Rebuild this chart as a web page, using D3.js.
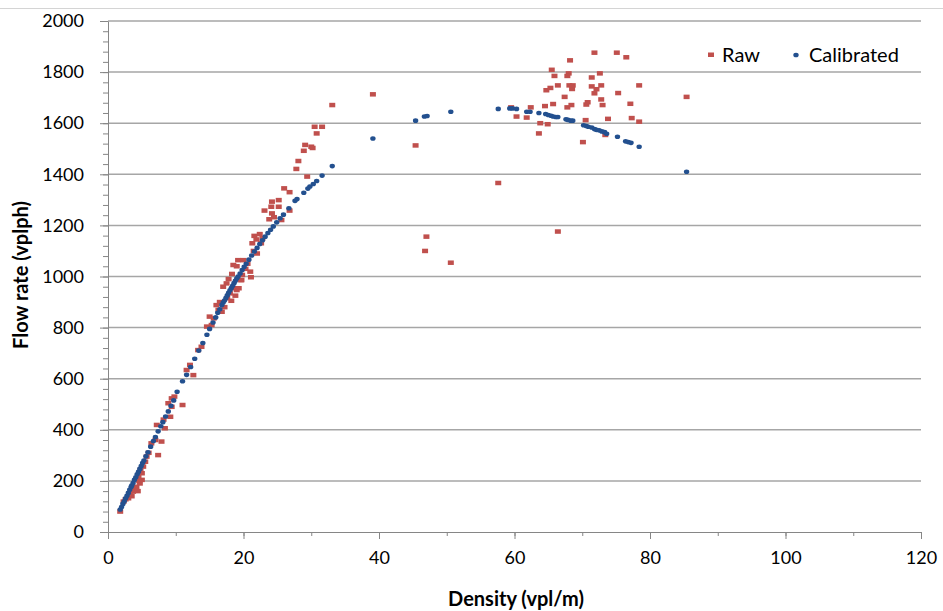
<!DOCTYPE html>
<html>
<head>
<meta charset="utf-8">
<script src="https://cdn.jsdelivr.net/npm/d3@7"></script>
<style>
  body { margin: 0; background: #fff; }
  text { font-family: Lato, "Open Sans", sans-serif; fill: #000; }
</style>
</head>
<body>
<div id="main"></div>
<script>
const w = 943, h = 611
const margin = {left: 108, right: 22, top: 21, bottom: 79}

// density (vpl/m), flow (vplph)
const rawDensity = [1.8,2.3,2.6,3.0,3.2,3.5,3.7,3.9,4.2,4.4,4.7,4.6,5.0,4.5,5.0,4.8,5.2,5.5,5.7,6.0,7.4,6.4,7.0,7.9,7.2,8.4,8.2,9.2,9.4,8.9,9.4,9.8,11.0,11.6,12.6,12.1,13.3,13.8,14.6,15.3,15.0,15.6,16.0,16.3,16.8,17.2,16.5,17.6,18.2,18.8,17.0,17.5,18.0,18.5,19.0,19.7,19.3,17.8,18.3,19.0,18.5,19.2,20.0,20.6,21.0,21.1,19.6,19.8,20.3,21.5,22.0,21.3,21.6,21.9,22.4,22.6,22.8,23.1,23.8,24.2,24.5,25.6,24.1,24.2,25.2,25.2,26.0,26.8,26.8,27.8,28.1,28.9,29.1,30.0,30.2,29.4,30.8,30.5,31.6,33.1,39.1,45.4,47.0,46.8,50.6,57.6,59.5,60.3,61.8,62.4,63.6,63.8,64.9,64.5,64.7,65.3,65.7,65.5,65.9,66.4,66.4,67.4,67.8,67.8,68.0,68.2,68.1,68.6,68.5,68.4,70.1,70.5,70.6,70.8,71.4,71.4,71.8,72.1,72.8,71.8,72.6,72.8,73.0,73.4,73.8,75.1,75.3,76.5,77.1,77.3,78.4,78.4,85.4]
const rawFlow = [80,119,128,132,151,140,158,168,177,160,190,200,204,216,230,243,256,275,295,310,301,347,360,354,419,406,440,451,490,504,523,530,497,634,614,654,712,725,804,810,843,836,888,869,862,880,900,915,905,925,960,973,934,954,947,986,954,990,1010,1040,1045,1064,1064,1050,1019,997,986,1006,1030,1100,1090,1130,1159,1145,1166,1130,1150,1258,1224,1247,1232,1221,1273,1293,1273,1299,1345,1330,1258,1421,1452,1492,1515,1508,1503,1391,1560,1586,1586,1671,1713,1513,1156,1100,1054,1366,1662,1626,1622,1662,1560,1600,1596,1667,1729,1738,1675,1809,1785,1748,1176,1703,1662,1785,1795,1846,1748,1748,1734,1671,1526,1612,1673,1682,1779,1744,1717,1733,1748,1876,1795,1693,1671,1554,1617,1876,1718,1858,1676,1620,1748,1606,1703]

const calDensity = [1.8,2.0,2.2,2.4,2.6,2.8,3.0,3.2,3.4,3.5,3.7,3.9,4.1,4.3,4.5,4.7,4.9,5.1,5.3,5.6,5.9,6.3,6.7,7.0,7.4,7.8,8.1,8.5,8.9,9.3,9.7,10.2,11.0,11.6,12.2,12.8,13.4,14.0,14.6,15.0,15.5,15.9,16.2,16.5,16.8,17.0,17.2,17.4,17.6,17.8,18.0,18.2,18.4,18.6,18.8,19.0,19.2,19.5,19.8,20.1,20.4,20.8,21.2,21.6,22.0,22.4,22.8,23.2,23.6,24.0,24.4,24.9,25.4,25.9,26.7,27.6,27.9,28.9,29.5,29.8,30.3,30.8,31.6,33.1,39.1,45.4,46.7,47.1,50.6,57.6,59.3,59.7,60.3,61.8,62.3,63.6,64.6,65.0,65.4,65.7,66.1,66.4,67.6,67.9,68.3,68.6,70.2,70.6,70.9,71.4,71.8,72.1,72.5,72.9,73.3,73.6,75.2,76.4,76.8,77.2,78.4,85.4]
const calFlow = [88,98,110,120,132,142,153,165,176,182,192,204,214,226,236,247,258,270,280,296,312,334,356,372,394,414,430,452,472,494,515,549,590,615,646,678,710,740,772,795,820,840,858,872,888,898,906,916,926,936,946,955,964,974,983,992,1000,1012,1025,1038,1050,1066,1082,1098,1112,1127,1142,1156,1170,1183,1196,1212,1228,1242,1267,1296,1303,1328,1344,1352,1362,1374,1395,1432,1540,1610,1626,1628,1645,1656,1658,1658,1656,1645,1645,1640,1636,1632,1629,1626,1624,1624,1615,1613,1610,1610,1592,1589,1586,1583,1577,1574,1572,1568,1565,1559,1547,1529,1526,1523,1508,1410]

const xTicks = [0, 20, 40, 60, 80, 100, 120]
const yTicks = [0, 200, 400, 600, 800, 1000, 1200, 1400, 1600, 1800, 2000]

const raw = rawDensity.map((d, i) => ({x: d, y: rawFlow[i]}))
const cal = calDensity.map((d, i) => ({x: d, y: calFlow[i]}))

const svg = d3.select('#main')
            .append('svg')
            .attr('width', w)
            .attr('height', h)

const xScale = d3.scaleLinear().domain([0, 120]).range([margin.left, w - margin.right])
const yScale = d3.scaleLinear().domain([0, 2000]).range([h - margin.bottom, margin.top])

// top border of the chart area
svg.append('line')
    .attr('x1', 0).attr('x2', w)
    .attr('y1', 8.5).attr('y2', 8.5)
    .attr('stroke', '#d4d4d4')

// gridlines
svg.append('g')
    .selectAll('line')
    .data(yTicks.slice(1))
    .enter()
    .append('line')
    .attr('x1', xScale(0))
    .attr('x2', xScale(120))
    .attr('y1', d => yScale(d))
    .attr('y2', d => yScale(d))
    .attr('stroke', '#a6a6a6')
    .attr('stroke-width', 1.5)

// minor ticks
const yMinor = d3.axisLeft(yScale).tickValues(d3.range(0, 2001, 40)).tickSize(5).tickFormat('')
const xMinor = d3.axisBottom(xScale).tickValues(d3.range(0, 121, 10)).tickSize(4).tickFormat('')

svg.append('g')
    .attr('transform', 'translate(' + xScale(0) + ',0)')
    .call(yMinor)
    .call(g => g.select('.domain').remove())
    .selectAll('line').attr('stroke', '#868686')

svg.append('g')
    .attr('transform', 'translate(0,' + yScale(0) + ')')
    .call(xMinor)
    .call(g => g.select('.domain').remove())
    .selectAll('line').attr('stroke', '#868686')

const yAxis = d3.axisLeft(yScale).tickValues(yTicks).tickFormat(d3.format('d'))
                .tickSize(8).tickSizeOuter(0).tickPadding(16)
const xAxis = d3.axisBottom(xScale).tickValues(xTicks).tickFormat(d3.format('d'))
                .tickSize(7).tickSizeOuter(0).tickPadding(12)

svg.append('g')
    .attr('id', 'y-axis')
    .attr('transform', 'translate(' + xScale(0) + ',0)')
    .call(yAxis)
    .call(g => g.select('.domain').attr('stroke', '#868686'))
    .call(g => g.selectAll('line').attr('stroke', '#868686'))
    .selectAll('text')
    .style('font-size', '18px')
    .style('font-family', 'Lato')

svg.append('g')
    .attr('id', 'x-axis')
    .attr('transform', 'translate(0,' + yScale(0) + ')')
    .call(xAxis)
    .call(g => g.select('.domain').attr('stroke', '#868686'))
    .call(g => g.selectAll('line').attr('stroke', '#868686'))
    .selectAll('text')
    .style('font-size', '18px')
    .style('font-family', 'Lato')

// raw points
svg.append('g')
    .selectAll('rect')
    .data(raw)
    .enter()
    .append('rect')
    .attr('x', d => xScale(d.x) - 3)
    .attr('y', d => yScale(d.y) - 2.25)
    .attr('width', 6)
    .attr('height', 4.5)
    .attr('fill', '#c0504d')

// calibrated points
svg.append('g')
    .selectAll('ellipse')
    .data(cal)
    .enter()
    .append('ellipse')
    .attr('cx', d => xScale(d.x))
    .attr('cy', d => yScale(d.y))
    .attr('rx', 2.7)
    .attr('ry', 2.3)
    .attr('fill', '#23508f')

// axis titles
svg.append('text')
    .text('Density (vpl/m)')
    .attr('x', 516)
    .attr('y', 606)
    .attr('text-anchor', 'middle')
    .style('font-weight', 'bold')
    .style('font-size', '20px')

svg.append('text')
    .text('Flow rate  (vplph)')
    .attr('transform', 'translate(28,275) rotate(-90)')
    .attr('text-anchor', 'middle')
    .style('font-weight', 'bold')
    .style('font-size', '20px')

// legend
const legend = svg.append('g').attr('id', 'legend')
legend.append('rect')
    .attr('x', 708).attr('y', 52.5)
    .attr('width', 6).attr('height', 4.5)
    .attr('fill', '#c0504d')
legend.append('text')
    .attr('x', 722).attr('y', 62)
    .text('Raw')
    .style('font-size', '20px')
legend.append('ellipse')
    .attr('cx', 796).attr('cy', 55)
    .attr('rx', 2.7).attr('ry', 2.3)
    .attr('fill', '#23508f')
legend.append('text')
    .attr('x', 809).attr('y', 62)
    .text('Calibrated')
    .style('font-size', '20px')
</script>
</body>
</html>
